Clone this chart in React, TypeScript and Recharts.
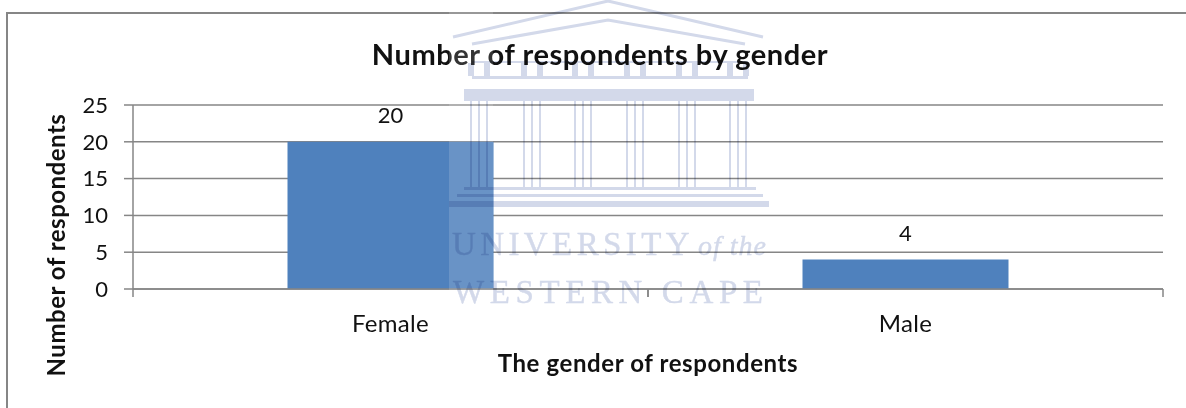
import React from 'react';
import { BarChart, Bar, XAxis, YAxis, CartesianGrid, LabelList, Label } from 'recharts';

const genders = ['Female', 'Male'];
const respondents = [20, 4];
const yTicks = [0, 5, 10, 15, 20, 25];

const chartData = genders.map((gender, i) => ({ gender, respondents: respondents[i] }));

const FONT = 'Lato, "Open Sans", sans-serif';
const LINE = '#868686';
const BAR = '#4f81bd';
const INK = '#111111';

// Category label plus the tick marks on the band edges, Excel style
const GenderTick = ({ x, y, payload }: any) => {
  const half = payload.offset ?? 0;
  return (
    <g>
      <line x1={x - half} x2={x - half} y1={y - 6} y2={y + 2} stroke={LINE} strokeWidth={1.5} />
      <line x1={x + half} x2={x + half} y1={y - 6} y2={y + 2} stroke={LINE} strokeWidth={1.5} />
      <text x={x} y={y + 37} textAnchor="middle" fontFamily={FONT} fontSize={24} letterSpacing={0.3} fill={INK}>
        {payload.value}
      </text>
    </g>
  );
};

// University watermark sitting on top of the page
const Watermark = () => {
  const columns = [479, 532, 583, 635, 687, 738];
  const ink = '#d3d9ea';
  return (
    <svg width={1186} height={408} style={{ position: 'absolute', left: 0, top: 0, pointerEvents: 'none' }}>
      <rect x={449} y={12} width={44} height={278} fill="#ffffff" opacity={0.15} />
      <g style={{ mixBlendMode: 'multiply' }}>
        <path d="M453 37 L608 1 L763 37" fill="none" stroke={ink} strokeWidth={3} />
        <path d="M472 44 L608 20 L745 44" fill="none" stroke={ink} strokeWidth={3} />
        <rect x={472} y={76} width={276} height={3} fill={ink} />
        <rect x={472} y={61} width={276} height={2} fill={ink} />
        <rect x={464} y={89} width={290} height={12} fill={ink} />
        {columns.map((cx) => (
          <g key={cx}>
            <rect x={cx - 9} y={101} width={2} height={87} fill={ink} />
            <rect x={cx - 1} y={101} width={2} height={87} fill={ink} />
            <rect x={cx + 7} y={101} width={2} height={87} fill={ink} />
            <rect x={cx - 11} y={63} width={6} height={13} fill={ink} />
            <rect x={cx + 5} y={63} width={6} height={13} fill={ink} />
          </g>
        ))}
        <rect x={464} y={187} width={292} height={3} fill={ink} />
        <rect x={457} y={194} width={306} height={3} fill={ink} />
        <rect x={449} y={201} width={320} height={6} fill={ink} />
        <text x={452} y={255} fontFamily="Liberation Serif, serif" fontSize={33} letterSpacing={4.4} fill={ink} stroke={ink} strokeWidth={0.4}>
          UNIVERSITY
          <tspan fontStyle="italic" fontSize={28} letterSpacing={1} dx={4}>of the</tspan>
        </text>
        <text x={453} y={303} fontFamily="Liberation Serif, serif" fontSize={33} letterSpacing={5.6} fill={ink} stroke={ink} strokeWidth={0.4}>
          WESTERN CAPE
        </text>
      </g>
    </svg>
  );
};

export default function App() {
  return (
    <div style={{ position: 'absolute', left: 0, top: 0, width: 1186, height: 408, background: '#fff', overflow: 'hidden' }}>
      <div style={{ position: 'absolute', left: 6, top: 12, width: 1200, height: 420, border: `2px solid ${LINE}` }} />
      <div style={{ position: 'absolute', left: 0, top: 0 }}>
        <BarChart
          width={1186}
          height={408}
          data={chartData}
          margin={{ top: 105, right: 23, bottom: 0, left: 0 }}
          barCategoryGap="30%"
        >
          <text x={600} y={65} textAnchor="middle" fontFamily={FONT} fontSize={29} fontWeight={700} letterSpacing={0.55} fill={INK}>
            Number of respondents by gender
          </text>
          <text
            x={0}
            y={0}
            transform="translate(65 245) rotate(-90)"
            textAnchor="middle"
            fontFamily={FONT}
            fontSize={24}
            fontWeight={700}
            letterSpacing={0.5}
            fill={INK}
          >
            Number of respondents
          </text>
          <CartesianGrid vertical={false} stroke={LINE} strokeWidth={1.5} />
          <XAxis
            dataKey="gender"
            height={119}
            interval={0}
            axisLine={{ stroke: LINE, strokeWidth: 1.5 }}
            tickLine={false}
            tick={<GenderTick />}
            tickMargin={0}
          >
            <Label
              value="The gender of respondents"
              position="insideTop"
              dy={61}
              fontFamily={FONT}
              fontSize={24}
              fontWeight={700}
              letterSpacing={0.6}
              fill={INK}
            />
          </XAxis>
          <YAxis
            width={133}
            domain={[0, 25]}
            ticks={yTicks}
            interval={0}
            axisLine={{ stroke: LINE, strokeWidth: 1.5 }}
            tickLine={{ stroke: LINE, strokeWidth: 1.5 }}
            tickSize={9}
            tickMargin={16}
            tick={{ fontFamily: FONT, fontSize: 22, fill: INK }}
          />
          <Bar dataKey="respondents" fill={BAR} isAnimationActive={false}>
            <LabelList dataKey="respondents" position="top" offset={19} fontFamily={FONT} fontSize={22} fill={INK} />
          </Bar>
        </BarChart>
      </div>
      <Watermark />
    </div>
  );
}
